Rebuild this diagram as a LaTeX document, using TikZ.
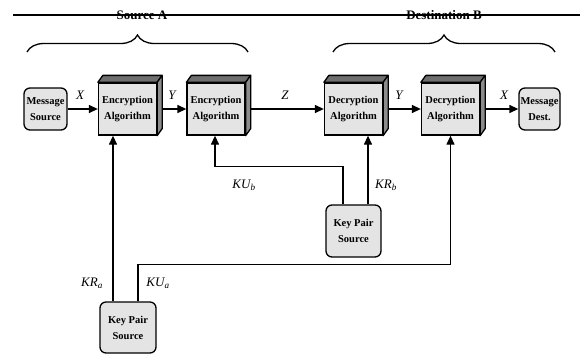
\documentclass[tikz,border=0pt]{standalone}
\usepackage{fontspec}
\setmainfont{Liberation Serif}
\usetikzlibrary{arrows.meta,decorations.pathreplacing}
\pgfdeclarelayer{background}
\pgfsetlayers{background,main}
\definecolor{facefill}{HTML}{E4E4E4}
\definecolor{topfill}{HTML}{6E6E6E}
\definecolor{sidefill}{HTML}{8C8C8C}
\tikzset{
  boxtext/.style={font=\fontsize{10.5}{16}\selectfont\bfseries, align=center},
  algbox/.style={boxtext, draw, line width=1.3pt, fill=facefill, minimum width=58pt, minimum height=52pt, inner sep=0pt},
  roundbox/.style={boxtext, draw, line width=1.3pt, fill=facefill, rounded corners=6pt, inner sep=0pt},
  face/.style={draw, line width=1.3pt, line join=round},
  conn/.style={line width=1.3pt},
  arr/.style={conn, -{Triangle[length=9pt,width=8pt]}},
  lbl/.style={font=\fontsize{13}{15}\selectfont\itshape},
  head/.style={font=\fontsize{13}{15}\selectfont\bfseries},
  bracestyle/.style={line width=1.3pt, decorate, decoration={brace, amplitude=17pt}}
}
\newcommand{\kkey}[2]{\textit{#1}\textsubscript{\textit{#2}}}
\begin{document}
\begin{tikzpicture}[x=1pt,y=-1pt]
\useasboundingbox (0,0) rectangle (581,354);

% headers
\node[head] (srcA) at (142,15) {Source A};
\node[head] (dstB) at (444,15) {Destination B};
\coordinate (tl) at (13,15);
\coordinate (tr) at (580,15);
\draw[conn] (tl) -- (tr);

% braces
\coordinate (ba1) at (27,52);
\coordinate (ba2) at (248,52);
\coordinate (bb1) at (333,52);
\coordinate (bb2) at (555,52);
\draw[bracestyle] (ba1) -- (ba2);
\draw[bracestyle] (bb1) -- (bb2);

% nodes
\node[roundbox, minimum width=43pt, minimum height=42pt] (ms) at (45.5,109) {Message\\Source};
\node[algbox] (e1) at (127.5,109) {Encryption\\Algorithm};
\node[algbox] (e2) at (216,109) {Encryption\\Algorithm};
\node[algbox] (d1) at (353.5,109) {Decryption\\Algorithm};
\node[algbox] (d2) at (450.5,109) {Decryption\\Algorithm};
\node[roundbox, minimum width=41pt, minimum height=42pt] (md) at (539.5,109) {Message\\Dest.};
\node[roundbox, minimum width=55pt, minimum height=52pt] (kpb) at (353.5,231) {Key Pair\\Source};
\node[roundbox, minimum width=56pt, minimum height=51pt] (kpa) at (128,327.5) {Key Pair\\Source};

% 3D faces
\foreach \n in {e1,e2,d1,d2}{
  \filldraw[face, fill=topfill] (\n.north west) -- ++(5,-7) -- ([shift={(5,-7)}]\n.north east) -- (\n.north east) -- cycle;
  \filldraw[face, fill=sidefill] (\n.north east) -- ++(5,-7) -- ([shift={(5,-7)}]\n.south east) -- (\n.south east) -- cycle;
}

% connectors
\begin{pgfonlayer}{background}
\draw[arr] (ms.east) -- (e1.west);
\draw[arr] (e1.east) -- (e2.west);
\draw[arr] (e2.east) -- (d1.west);
\draw[arr] (d1.east) -- (d2.west);
\draw[arr] (d2.east) -- (md.west);
\draw[arr] ([xshift=-15pt]kpa.north) -- ([xshift=-15pt]kpa.north |- e1.south);
\draw[arr] ([xshift=10pt]kpa.north) -- ++(0,-37) -| (d2.south);
\draw[arr] ([xshift=-10.5pt]kpb.north) -- ++(0,-38) -| ([xshift=-1pt]e2.south);
\draw[arr] ([xshift=14.5pt]kpb.north) -- ([xshift=14.5pt]kpb.north |- d1.south);
\end{pgfonlayer}

% labels
\node[lbl] (lx1) at (80,95) {X};
\node[lbl] (ly1) at (172,95) {Y};
\node[lbl] (lz) at (285,95) {Z};
\node[lbl] (ly2) at (399,95) {Y};
\node[lbl] (lx2) at (504,95) {X};
\node[lbl] (lkub) at (244,185) {\kkey{KU}{b}};
\node[lbl] (lkrb) at (386,185) {\kkey{KR}{b}};
\node[lbl] (lkra) at (92,283) {\kkey{KR}{a}};
\node[lbl] (lkua) at (158,283) {\kkey{KU}{a}};
\end{tikzpicture}
\end{document}
